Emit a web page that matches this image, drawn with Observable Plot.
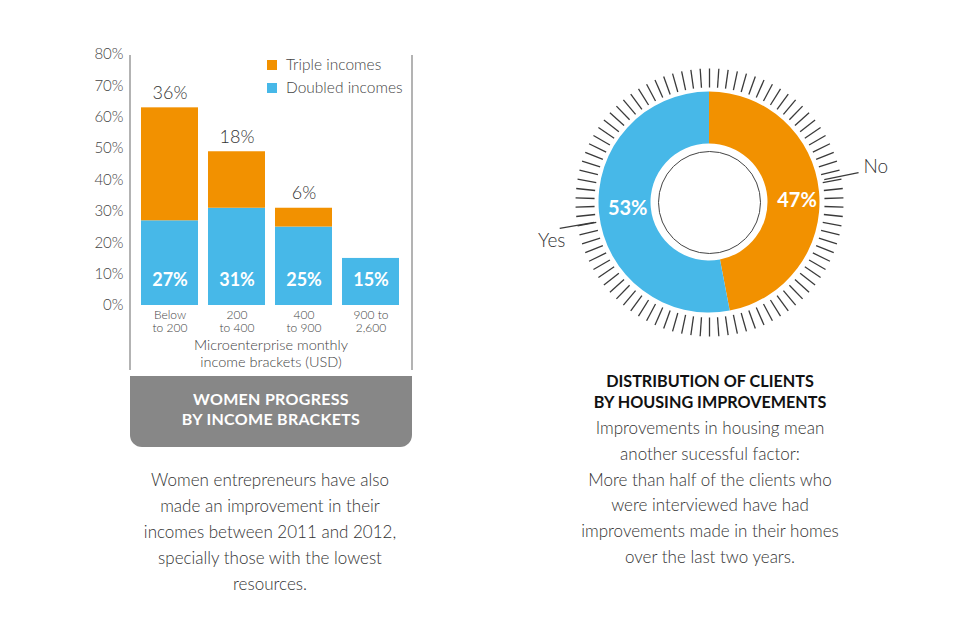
<!DOCTYPE html>
<html><head><meta charset="utf-8">
<script src="https://cdn.jsdelivr.net/npm/d3@7"></script>
<script src="https://cdn.jsdelivr.net/npm/@observablehq/plot@0.6"></script>
<style>
body{margin:0;background:#fff;font-family:Lato,"Open Sans",sans-serif;}
#page{position:relative;width:960px;height:640px;overflow:hidden;background:#fff}
.abs{position:absolute}
#bars{left:0;top:0}
#donut{left:489px;top:22px}
#frame{left:129px;top:55px;width:280px;height:315px;border-left:2px solid #b3b3b3;border-right:2px solid #b3b3b3}
#legend{left:267px;top:53px;font-size:15.5px;color:#444;font-weight:300;line-height:23px}
#legend .sw{display:inline-block;width:10px;height:10px;margin-right:9px;vertical-align:0px}
#box{left:130px;top:376px;width:282px;height:71px;background:#878787;border-radius:0 0 12px 12px;color:#fff;font-weight:700;font-size:16px;line-height:20px;text-align:center;box-sizing:border-box;padding-top:13px;letter-spacing:0.3px}
#leftText{left:110px;top:467px;width:320px;text-align:center;font-size:17px;line-height:26px;color:#333;font-weight:300}
#rightTitle{left:545px;top:370px;width:330px;text-align:center;font-size:16.2px;line-height:21px;color:#111;font-weight:700}
#rightText{left:550px;top:415px;width:320px;text-align:center;font-size:17px;line-height:25.8px;color:#333;font-weight:300}
</style></head><body>
<div id="page">
  <div id="frame" class="abs"></div>
  <div id="bars" class="abs"></div>
  <div id="legend" class="abs"></div>
  <div id="box" class="abs">WOMEN PROGRESS<br>BY INCOME BRACKETS</div>
  <div id="leftText" class="abs">Women entrepreneurs have also<br>made an improvement in their<br>incomes between 2011 and 2012,<br>specially those with the lowest<br>resources.</div>
  <div id="donut" class="abs"></div>
  <div id="rightTitle" class="abs">DISTRIBUTION OF CLIENTS<br>BY HOUSING IMPROVEMENTS</div>
  <div id="rightText" class="abs">Improvements in housing mean<br>another sucessful factor:<br>More than half of the clients who<br>were interviewed have had<br>improvements made in their homes<br>over the last two years.</div>
</div>
<script>
// ---- data ----
const brackets = ["Below\nto 200", "200\nto 400", "400\nto 900", "900 to\n2,600"];
const doubledIncomes = [27, 31, 25, 15];
const tripleIncomes = [36, 18, 6, 0];
const yTicks = [0, 10, 20, 30, 40, 50, 60, 70, 80];
const seriesNames = ["Triple incomes", "Doubled incomes"];
const xAxisTitle = "Microenterprise monthly\nincome brackets (USD)";

const housingAnswers = ["No", "Yes"];
const housingShares = [47, 53];

// ---- styles ----
const ORANGE = "#F29100", BLUE = "#47B8E8";
const FONT = "Lato, 'Open Sans', sans-serif";

// ---- bar chart ----
const rows = brackets.map((b, i) => ({bracket: b, doubled: doubledIncomes[i], triple: tripleIncomes[i]}));

const bars = Plot.plot({
  width: 440, height: 372,
  marginLeft: 135, marginRight: 34, marginTop: 54, marginBottom: 67,
  style: {fontFamily: FONT, fontSize: "15px", color: "#444", fontWeight: 300, background: "transparent"},
  x: {domain: brackets, paddingInner: 0.143, paddingOuter: 0.0715, axis: null},
  y: {domain: [0, 80], ticks: yTicks, tickFormat: d => d + "%", tickSize: 0, tickPadding: 12, label: null},
  marks: [
    Plot.barY(rows, {x: "bracket", y1: 0, y2: "doubled", fill: BLUE}),
    Plot.barY(rows.filter(d => d.triple > 0), {x: "bracket", y1: "doubled", y2: d => d.doubled + d.triple, fill: ORANGE}),
    Plot.text(rows, {x: "bracket", y: 0, text: d => d.doubled + "%", dy: -25, fill: "white", fontWeight: 700, fontSize: 18}),
    Plot.text(rows.filter(d => d.triple > 0), {x: "bracket", y: d => d.doubled + d.triple, text: d => d.triple + "%", dy: -15, fill: "#333", fontSize: 18, fontWeight: 300}),
    Plot.text(rows, {x: "bracket", y: 0, text: "bracket", dy: 4, lineAnchor: "top", lineHeight: 1.1, fontSize: 12, fill: "#444"}),
    Plot.text([xAxisTitle], {frameAnchor: "bottom", text: d => d, dy: 33, lineAnchor: "top", lineHeight: 1.15, fontSize: 14.5, fill: "#444"})
  ]
});
document.getElementById("bars").appendChild(bars);

// legend
const legend = document.getElementById("legend");
[[seriesNames[0], ORANGE], [seriesNames[1], BLUE]].forEach(([name, c]) => {
  const row = document.createElement("div");
  row.innerHTML = `<span class="sw" style="background:${c}"></span>${name}`;
  legend.appendChild(row);
});

// ---- donut chart ----
const housing = housingAnswers.map((a, i) => ({answer: a, share: housingShares[i]}));
const arcs = d3.pie().sort(null).value(d => d.share)(housing);
const RAD = {inner: 58.5, outer: 110.5, core: 51, tick0: 115, tick1: 134, lead0: 117, lead1: 152};
const leaderAngle = {No: 78.7, Yes: 260.2};
const pctPos = {No: [87.5, 88.7], Yes: [82, 265.8]};
const colorOf = {No: ORANGE, Yes: BLUE};
const rad = a => a * Math.PI / 180;
const px = (r, a) => r * Math.sin(rad(a));
const py = (r, a) => r * Math.cos(rad(a));
const tickAngles = d3.range(0, 360, 4);

const donut = Plot.plot({
  width: 440, height: 360,
  marginLeft: 0, marginRight: 0, marginTop: 0, marginBottom: 0,
  style: {fontFamily: FONT, background: "transparent"},
  x: {domain: [-220, 220], axis: null},
  y: {domain: [-180, 180], axis: null},
  marks: [
    (index, scales) => {
      const cx = scales.x(0), cy = scales.y(0), k = scales.x(1) - scales.x(0);
      const g = d3.create("svg:g").attr("transform", `translate(${cx},${cy})`);
      const arc = d3.arc().innerRadius(RAD.inner * k).outerRadius(RAD.outer * k);
      g.selectAll("path").data(arcs).join("path")
        .attr("d", arc).attr("fill", d => colorOf[d.data.answer]);
      return g.node();
    },
    Plot.dot([0], {x: 0, y: 0, r: RAD.core, stroke: "#444", strokeWidth: 1, fill: "none"}),
    Plot.link(tickAngles, {
      x1: a => px(RAD.tick0, a), y1: a => py(RAD.tick0, a),
      x2: a => px(RAD.tick1, a), y2: a => py(RAD.tick1, a),
      stroke: "#3a3a3a", strokeWidth: 1.3
    }),
    Plot.link(housing, {
      x1: d => px(RAD.lead0, leaderAngle[d.answer]), y1: d => py(RAD.lead0, leaderAngle[d.answer]),
      x2: d => px(RAD.lead1, leaderAngle[d.answer]), y2: d => py(RAD.lead1, leaderAngle[d.answer]),
      stroke: "#3a3a3a", strokeWidth: 1.3
    }),
    Plot.text(housing.filter(d => d.answer === "No"), {
      x: d => px(RAD.lead1, leaderAngle.No), y: d => py(RAD.lead1, leaderAngle.No),
      text: "answer", dx: 5, dy: -6, textAnchor: "start", fontSize: 19, fill: "#333", fontWeight: 300
    }),
    Plot.text(housing.filter(d => d.answer === "Yes"), {
      x: d => px(RAD.lead1, leaderAngle.Yes), y: d => py(RAD.lead1, leaderAngle.Yes),
      text: "answer", dx: -8, dy: 13, textAnchor: "middle", fontSize: 19, fill: "#333", fontWeight: 300
    }),
    Plot.text(housing, {
      x: d => px(pctPos[d.answer][0], pctPos[d.answer][1]), y: d => py(pctPos[d.answer][0], pctPos[d.answer][1]),
      text: d => d.share + "%", fill: "white", fontWeight: 700, fontSize: 20
    })
  ]
});
document.getElementById("donut").appendChild(donut);
</script>
</body></html>
